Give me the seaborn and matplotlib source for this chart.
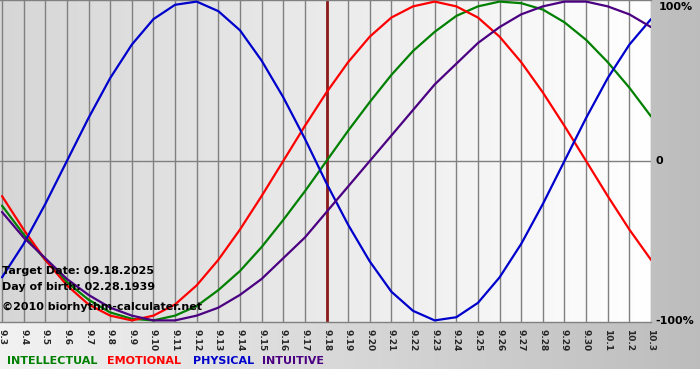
import numpy as np
import pandas as pd
import matplotlib
matplotlib.use("Agg")
import matplotlib.pyplot as plt
import seaborn as sns

# days shown on the chart (9.3 .. 10.3)
days = ["9.3", "9.4", "9.5", "9.6", "9.7", "9.8", "9.9", "9.10", "9.11", "9.12",
        "9.13", "9.14", "9.15", "9.16", "9.17", "9.18", "9.19", "9.20", "9.21", "9.22",
        "9.23", "9.24", "9.25", "9.26", "9.27", "9.28", "9.29", "9.30", "10.1", "10.2", "10.3"]

intellectual = [-0.28, -0.46, -0.62, -0.76, -0.87, -0.95, -0.99, -1.00, -0.97, -0.91,
                -0.81, -0.69, -0.54, -0.37, -0.19, 0.00, 0.19, 0.37, 0.54, 0.69,
                0.81, 0.91, 0.97, 1.00, 0.99, 0.95, 0.87, 0.76, 0.62, 0.46, 0.28]
emotional = [-0.22, -0.43, -0.62, -0.78, -0.90, -0.97, -1.00, -0.97, -0.90, -0.78,
             -0.62, -0.43, -0.22, 0.00, 0.22, 0.43, 0.62, 0.78, 0.90, 0.97,
             1.00, 0.97, 0.90, 0.78, 0.62, 0.43, 0.22, 0.00, -0.22, -0.43, -0.62]
physical = [-0.73, -0.52, -0.27, 0.00, 0.27, 0.52, 0.73, 0.89, 0.98, 1.00,
            0.94, 0.82, 0.63, 0.40, 0.14, -0.14, -0.40, -0.63, -0.82, -0.94,
            -1.00, -0.98, -0.89, -0.73, -0.52, -0.27, 0.00, 0.27, 0.52, 0.73, 0.89]
intuitive = [-0.32, -0.48, -0.61, -0.74, -0.84, -0.92, -0.97, -1.00, -1.00, -0.97,
             -0.92, -0.84, -0.74, -0.61, -0.48, -0.32, -0.16, 0.00, 0.16, 0.32,
             0.48, 0.61, 0.74, 0.84, 0.92, 0.97, 1.00, 1.00, 0.97, 0.92, 0.84]

series_names = ["INTELLECTUAL", "EMOTIONAL", "PHYSICAL", "INTUITIVE"]
colors = {"INTELLECTUAL": "#008000", "EMOTIONAL": "#ff0000",
          "PHYSICAL": "#0000cc", "INTUITIVE": "#4b0082"}
target_day = "9.18"

idx = np.arange(len(days))
df = pd.concat([
    pd.DataFrame({"day": idx, "value": vals, "series": name})
    for name, vals in zip(series_names, [intellectual, emotional, physical, intuitive])
])

sns.set_style("white")
plt.rcParams["font.family"] = ["DejaVu Sans"]

W, H = 700, 380
fig = plt.figure(figsize=(W / 100, H / 100), dpi=100)

# outer background: grey gradient, white strip at the very bottom
bg = fig.add_axes([0, 0, 1, 1], zorder=-5)
grad = np.linspace(0.95, 0.74, 256)
img = np.tile(grad, (H, 1))
img = np.dstack([img, img, img])
img[369:, :, :] = 1.0
bg.imshow(img, aspect="auto", extent=[0, 1, 0, 1], origin="upper")
bg.axis("off")

# plot area
ax = fig.add_axes([0, (H - 322) / H, 651 / W, 322 / H])
xlo, xhi = -2 / 21.63, 30
ylo, yhi = -1.01, 1.01
pgrad = np.linspace(0.84, 1.0, 256)
pimg = np.dstack([np.tile(pgrad, (2, 1))] * 3)
ax.imshow(pimg, aspect="auto", extent=[xlo, xhi, ylo, yhi], zorder=0)

for i in idx:
    ax.axvline(i, color="#808080", lw=1, zorder=1)
ax.axhline(0, color="#808080", lw=1, zorder=1)
ax.axvline(days.index(target_day), color="#8b1a1a", lw=2, zorder=2)

sns.lineplot(data=df, x="day", y="value", hue="series", palette=colors,
             hue_order=series_names, lw=1.6, legend=False, ax=ax, zorder=3)

ax.set_xlim(xlo, xhi)
ax.set_ylim(ylo, yhi)
ax.set_xticks(idx)
ax.set_xticklabels(days, rotation=-90, fontsize=6.5, fontweight="bold")
ax.set_yticks([])
ax.set_xlabel("")
ax.set_ylabel("")
ax.tick_params(axis="x", length=4, width=1, color="#808080", pad=1)
for side, sp in ax.spines.items():
    sp.set_color("#808080")
    sp.set_linewidth(1)
ax.spines["left"].set_visible(False)
ax.spines["right"].set_visible(False)

# right side percentage labels
def px(x, y):
    return x / W, 1 - y / H

tkw = dict(fontsize=8, fontweight="bold", color="black", va="center", ha="left")
fig.text(*px(659, 7), "100%", **tkw)
fig.text(*px(656, 161), "0", **tkw)
fig.text(*px(655, 321), "-100%", **tkw)

# info text
fig.text(*px(2, 271), "Target Date: 09.18.2025", **tkw)
fig.text(*px(2, 287), "Day of birth: 02.28.1939", **tkw)
fig.text(*px(2, 307), "\u00a92010 biorhythm-calculater.net", **tkw)

# coloured legend words
legend_x = [7, 107, 193, 262]
for name, x in zip(series_names, legend_x):
    fig.text(*px(x, 361), name, fontsize=8, fontweight="bold",
             color=colors[name], va="center", ha="left")

fig.savefig("out.png", dpi=100)
